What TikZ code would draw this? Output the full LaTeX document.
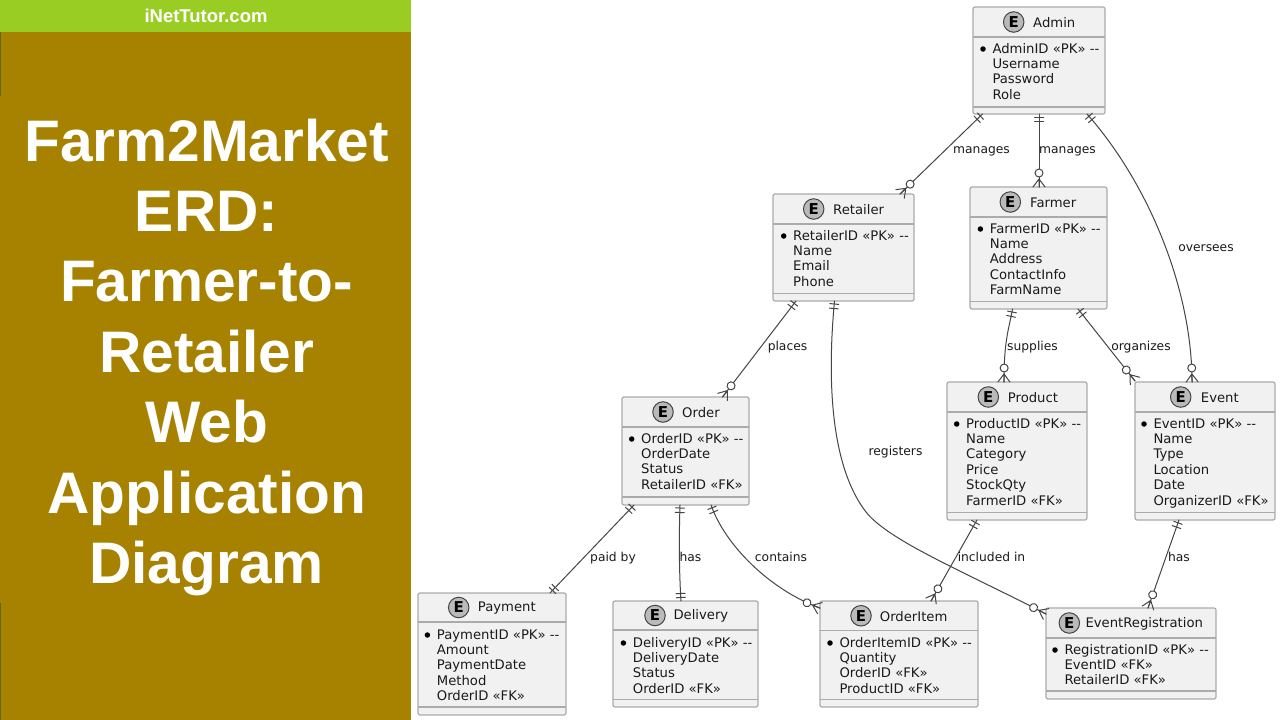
\documentclass[tikz,border=0pt]{standalone}
\usepackage{fontspec}
\usetikzlibrary{calc,decorations.markings}
\newfontfamily\erfont{DejaVu Sans}
\newfontfamily\panelfont{Liberation Sans}
\definecolor{panelolive}{HTML}{A68200}
\definecolor{panelgreen}{HTML}{9ACD23}
\definecolor{paneledge}{HTML}{5F6A10}
\definecolor{boxfill}{HTML}{F1F1F1}
\definecolor{boxline}{HTML}{ABABAB}
\definecolor{linkcol}{HTML}{454545}
\definecolor{rowcol}{HTML}{1A1A1A}
\newcommand{\barmk}{\draw[linkcol,line width=1pt] (0,-4.5) -- (0,4.5);}
\newcommand{\footmk}{%
    \draw[linkcol,line width=1pt] (0,0) -- (8,-6) (0,0) -- (8,6) (0,0) -- (8,0);
    \draw[linkcol,line width=1pt,fill=white] (-6,0) circle (4);}
\tikzset{
  x=1pt,y=-1pt,
  entbox/.style={draw=boxline,fill=boxfill,line width=1.2pt,rounded corners=2pt,inner sep=0pt,outer sep=0pt,anchor=north west},
  entrule/.style={draw=boxline,line width=1.1pt},
  ebadge/.style={circle,draw=linkcol,fill=black!27,line width=1pt,minimum size=20.5pt,inner sep=0pt,text=black,font=\erfont\bfseries\fontsize{15}{15}\selectfont},
  enttitle/.style={anchor=west,inner sep=0pt,text=rowcol,font=\erfont\fontsize{13.2}{15}\selectfont},
  entrow/.style={anchor=base west,inner sep=0pt,text=rowcol,font=\erfont\fontsize{13.2}{15}\selectfont},
  rowdot/.style={circle,fill=black,minimum size=5.5pt,inner sep=0pt},
  linklabel/.style={inner sep=0pt,text=rowcol,font=\erfont\fontsize{12.3}{14}\selectfont},
  link/.style={draw=linkcol,line width=1pt,line cap=round},
  onestart/.style={postaction={decorate,decoration={markings,
    mark=at position 3pt with {\barmk},
    mark=at position 7.5pt with {\barmk}}}},
  oneend/.style={postaction={decorate,decoration={markings,
    mark=at position -3.5pt with {\barmk},
    mark=at position -7.5pt with {\barmk}}}},
  manyend/.style={postaction={decorate,decoration={markings,
    mark=at position -8pt with {\footmk}}}},
}
% id, x0, y0, x1, y1, header line y, divider y, badge x, title x, title, rows x, rows
\newcommand{\entity}[9]{%
  \pgfmathsetmacro{\ew}{#4-#2}\pgfmathsetmacro{\eh}{#5-#3}%
  \node[entbox,minimum width=\ew pt,minimum height=\eh pt] (#1) at (#2,#3) {};
  \coordinate (#1-h) at (#2,#6);\coordinate (#1-d) at (#2,#7);
  \draw[entrule] (#1-h) -- (#1-h -| #1.east);
  \draw[entrule] (#1-d) -- (#1-d -| #1.east);
  \pgfmathsetmacro{\ey}{(#3+#6)/2}%
  \node[ebadge] (#1-e) at (#8,\ey) {E};
  \def\curid{#1}\def\curtop{#3}\def\curtitlex{#9}\entityrest}
\newcommand{\entityrest}[3]{%
  \pgfmathsetmacro{\ty}{\ey+0.8}
  \node[enttitle] (\curid-t) at (\curtitlex,\ty) {#1};
  \foreach \r [count=\i from 0] in {#3}{
    \pgfmathsetmacro{\ry}{\curtop+46+15.45*\i}
    \node[entrow] (\curid-r\i) at (#2,\ry) {\r};
  }
  \pgfmathsetmacro{\dy}{\curtop+42}\pgfmathsetmacro{\dx}{#2-9.3}
  \node[rowdot] (\curid-b) at (\dx,\dy) {};
}
\newcommand{\PK}{«PK» -{}-}
\newcommand{\FK}{«FK»}
\begin{document}
\begin{tikzpicture}
\useasboundingbox (0,0) rectangle (1280,720);
\fill[white] (0,0) rectangle (1280,720);
% left panel
\fill[panelolive] (0,0) rectangle (411,720);
\fill[paneledge] (0,32) rectangle (1.2,96);
\fill[paneledge] (0,603) rectangle (1.2,720);
\fill[panelgreen] (0,0) rectangle (411,32);
\node[inner sep=0pt,text=white,font=\panelfont\bfseries\fontsize{18.5}{18}\selectfont] (site) at (206,16.3) {iNetTutor.com};
\node[inner sep=0pt,text=white,align=center,font=\panelfont\bfseries\fontsize{58.6}{70.4}\selectfont,anchor=north] (paneltitle) at (206.6,118.5)
  {Farm2Market\\ERD:\\Farmer-to-\\Retailer\\Web\\Application\\Diagram};
% entities
\entity{admin}{973}{7}{1105}{114}{37}{107}{1013.7}{1033}{Admin}{992.3}{AdminID \PK,Username,Password,Role}
\entity{retailer}{773}{194}{914}{301}{224}{293.5}{813.7}{833}{Retailer}{793}{RetailerID \PK,Name,Email,Phone}
\entity{farmer}{970}{187}{1107}{309}{217}{301.5}{1010.3}{1030}{Farmer}{989.7}{FarmerID \PK,Name,Address,ContactInfo,FarmName}
\entity{order}{622}{397}{749}{505}{427}{497}{663}{682}{Order}{641}{OrderID \PK,OrderDate,Status,RetailerID \FK}
\entity{product}{947}{382}{1087}{520}{412}{512.5}{988.3}{1007.7}{Product}{966}{ProductID \PK,Name,Category,Price,StockQty,FarmerID \FK}
\entity{event}{1135}{382}{1275}{520}{412}{512.5}{1180.7}{1200.7}{Event}{1153.3}{EventID \PK,Name,Type,Location,Date,OrganizerID \FK}
\entity{payment}{418}{593}{566}{715}{622}{707}{458.7}{477.7}{Payment}{436.7}{PaymentID \PK,Amount,PaymentDate,Method,OrderID \FK}
\entity{delivery}{613}{601}{758}{707}{630}{699.5}{655}{673.3}{Delivery}{632.7}{DeliveryID \PK,DeliveryDate,Status,OrderID \FK}
\entity{orderitem}{820}{601}{978}{707}{630.5}{699.5}{861}{879.7}{OrderItem}{839.3}{OrderItemID \PK,Quantity,OrderID \FK,ProductID \FK}
\entity{evreg}{1046}{608}{1216}{699}{638}{691}{1069.3}{1085.3}{EventRegistration}{1064.3}{RegistrationID \PK,EventID \FK,RetailerID \FK}
% connectors
\draw[link,onestart,manyend] ($(admin.south west)+(9.5,0)$) -- ($(retailer.north east)+(-14,0)$);
\draw[link,onestart,manyend] ($(admin.south west)+(66,0)$) -- ($(farmer.north west)+(69,0)$);
\draw[link,onestart,manyend] ($(admin.south west)+(114,0)$) .. controls +(62,70) and (1192,290) .. ($(event.north east)+(-83,0)$);
\draw[link,onestart,manyend] ($(retailer.south west)+(23,0)$) -- ($(order.north east)+(-26.5,0)$);
\draw[link,onestart,manyend] ($(retailer.south west)+(61.5,0)$) .. controls +(-8,85) and (832,468) .. (866,512) .. controls (889,541) and (965,572) .. ($(evreg.north west)+(0,6)$);
\draw[link,onestart,manyend] ($(farmer.south west)+(42.5,0)$) .. controls +(-4,22) and (1004,340) .. ($(product.north west)+(57,0)$);
\draw[link,onestart,manyend] ($(farmer.south west)+(108,0)$) -- ($(event.north west)+(0,-1)$);
\draw[link,onestart,oneend] ($(order.south west)+(12,0)$) -- ($(payment.north east)+(-16,0)$);
\draw[link,onestart,oneend] ($(order.south west)+(58,0)$) .. controls +(-1,30) and (679,570) .. ($(delivery.north west)+(68,0)$);
\draw[link,onestart,manyend] ($(order.south west)+(89,0)$) .. controls +(14,40) and (770,590) .. ($(orderitem.north west)+(0,7)$);
\draw[link,onestart,manyend] ($(product.south west)+(30,0)$) -- ($(orderitem.north west)+(111,0)$);
\draw[link,onestart,manyend] ($(event.south west)+(44,0)$) -- ($(evreg.north west)+(102,0)$);
% labels
\node[linklabel] (l1) at (981.5,151.5) {manages};
\node[linklabel] (l2) at (1067.5,151.5) {manages};
\node[linklabel] (l3) at (1206,248) {oversees};
\node[linklabel] (l4) at (787.5,347) {places};
\node[linklabel] (l5) at (895.5,452) {registers};
\node[linklabel] (l6) at (1032.5,347) {supplies};
\node[linklabel] (l7) at (1141,347) {organizes};
\node[linklabel] (l8) at (613,558) {paid by};
\node[linklabel] (l9) at (690.5,557) {has};
\node[linklabel] (l10) at (781,557) {contains};
\node[linklabel] (l11) at (991.5,557) {included in};
\node[linklabel] (l12) at (1179,557) {has};
\end{tikzpicture}
\end{document}
